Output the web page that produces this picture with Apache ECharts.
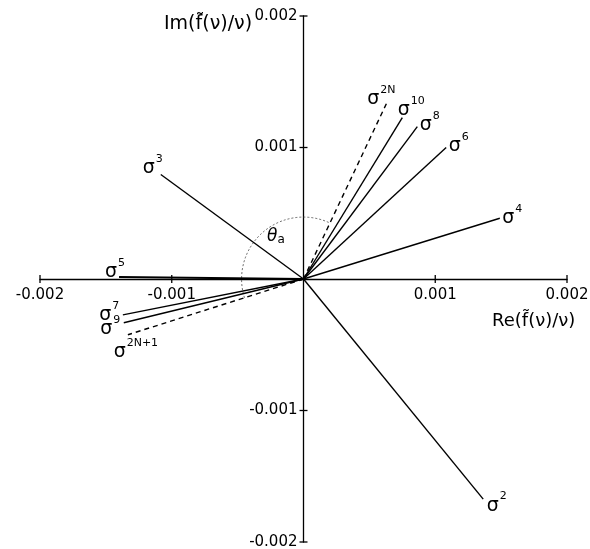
<!DOCTYPE html>
<html>
<head>
<meta charset="utf-8">
<script src="https://cdn.jsdelivr.net/npm/echarts@6/dist/echarts.min.js"></script>
<style>
  html, body { margin: 0; padding: 0; background: #fff; }
  #chart { width: 590px; height: 549px; }
</style>
</head>
<body>
<div id="chart"></div>
<script>
// Powers of sigma, drawn as vectors from the origin in the complex plane
const powers = ['2', '3', '4', '5', '6', '7', '8', '9', '10', '2N', '2N+1'];
const reValues = [0.001364, -0.001083, 0.00149, -0.00140, 0.001083, -0.001371, 0.000864, -0.001364, 0.00075, 0.000629, -0.001333];
const imValues = [-0.001674, 0.000795, 0.000462, 0.000015, 0.0010, -0.000273, 0.001159, -0.000333, 0.001227, 0.001333, -0.000424];
const limitPowers = ['2N', '2N+1'];        // limiting vectors, drawn dashed
const xTicks = [-0.002, -0.001, 0.001, 0.002];
const yTicks = [-0.002, -0.001, 0.001, 0.002];
const arcRadius = 0.00047;                  // radius of the theta_a arc

const FONT = 'DejaVu Sans';
const INK = '#000';

// label placement per vector end
const labelPlace = {
  '2':    { position: 'right', distance: 3, offset: [0, 4] },
  '3':    { position: 'top', distance: 0, offset: [-8, 4] },
  '4':    { position: 'right', distance: 2, offset: [0, -3] },
  '5':    { position: 'top', distance: 0, offset: [-4, 5] },
  '6':    { position: 'right', distance: 2, offset: [0, -4] },
  '7':    { position: 'left', distance: 3, offset: [0, -2] },
  '8':    { position: 'right', distance: 2, offset: [0, -4] },
  '9':    { position: 'left', distance: 3, offset: [0, 4] },
  '10':   { position: 'top', distance: 1, offset: [9, 3] },
  '2N':   { position: 'top', distance: 0, offset: [-5, 5] },
  '2N+1': { position: 'bottom', distance: 3, offset: [8, -1] }
};

const richSigma = {
  s: { fontFamily: FONT, fontSize: 19, color: INK, lineHeight: 24, verticalAlign: 'bottom' },
  p: { fontFamily: FONT, fontSize: 11, color: INK, lineHeight: 12, verticalAlign: 'top', padding: [0, 0, 0, 1] }
};

const vectorSeries = powers.map((p, i) => ({
  type: 'line',
  name: 'σ' + p,
  symbol: 'none',
  animation: false,
  silent: true,
  lineStyle: {
    color: INK,
    width: p === '5' ? 1.9 : 1.4,
    type: limitPowers.includes(p) ? [5, 4] : 'solid'
  },
  data: [[0, 0], [reValues[i], imValues[i]]]
}));

// sigma^k labels at the vector tips
const labelSeries = {
  type: 'scatter',
  silent: true,
  animation: false,
  symbolSize: 1,
  itemStyle: { color: INK, opacity: 0 },
  data: powers.map((p, i) => {
    const lp = labelPlace[p];
    return {
      value: [reValues[i], imValues[i]],
      label: {
        show: true,
        color: INK,
        opacity: 1,
        position: lp.position,
        distance: lp.distance,
        offset: lp.offset,
        formatter: '{s|σ}{p|' + p + '}',
        rich: richSigma
      }
    };
  })
};

function angleOf(name) {
  const i = powers.indexOf(name);
  return Math.atan2(imValues[i], reValues[i]);
}

// dotted arc marking theta_a between the two limiting vectors
const arcSeries = {
  type: 'custom',
  silent: true,
  animation: false,
  data: [[0, 0]],
  renderItem: function (params, api) {
    const c = api.coord([0, 0]);
    const r = api.size([arcRadius, 0])[0];
    const a1 = angleOf('2N');
    const a2 = angleOf('2N+1');
    return {
      type: 'arc',
      shape: { cx: c[0], cy: c[1], r: r, startAngle: -a2, endAngle: -a1, clockwise: true },
      style: { stroke: '#444', lineWidth: 0.8, fill: null, lineDash: [2, 2] }
    };
  }
};

const tickLabel = v => String(+v.toFixed(3));

// tick marks crossing both axes, with their labels
const tickData = xTicks.map(v => [v, 0, 0]).concat(yTicks.map(v => [0, v, 1]));
const tickSeries = {
  type: 'custom',
  silent: true,
  animation: false,
  data: tickData,
  renderItem: function (params, api) {
    const xv = api.value(0), yv = api.value(1);
    const pt = api.coord([xv, yv]);
    const onX = api.value(2) === 0;
    const h = 4;
    return {
      type: 'group',
      children: [
        {
          type: 'line',
          shape: onX
            ? { x1: pt[0], y1: pt[1] - h, x2: pt[0], y2: pt[1] + h }
            : { x1: pt[0] - h, y1: pt[1], x2: pt[0] + h, y2: pt[1] },
          style: { stroke: INK, lineWidth: 1.3 }
        },
        {
          type: 'text',
          x: onX ? pt[0] : pt[0] - 6,
          y: onX ? pt[1] + 9 : pt[1],
          style: {
            text: tickLabel(onX ? xv : yv),
            fill: INK,
            font: '15px "DejaVu Sans"',
            align: onX ? 'center' : 'right',
            verticalAlign: onX ? 'top' : 'middle'
          }
        }
      ]
    };
  }
};

const chart = echarts.init(document.getElementById('chart'), null, { renderer: 'canvas' });
chart.setOption({
  backgroundColor: '#fff',
  animation: false,
  grid: { left: 40, right: 23, top: 16, bottom: 7, containLabel: false, outerBoundsMode: 'none' },
  xAxis: {
    type: 'value', min: -0.002, max: 0.002, interval: 0.001,
    axisLine: { onZero: true, lineStyle: { color: INK, width: 1.3 } },
    axisTick: { show: false },
    splitLine: { show: false },
    axisLabel: { show: false }
  },
  yAxis: {
    type: 'value', min: -0.002, max: 0.002, interval: 0.001,
    axisLine: { onZero: true, lineStyle: { color: INK, width: 1.3 } },
    axisTick: { show: false },
    splitLine: { show: false },
    axisLabel: { show: false }
  },
  graphic: [
    { type: 'text', left: 164, top: 15, style: { text: 'Im(f\u0303(ν)/ν)', font: '19px "DejaVu Sans"', fill: INK } },
    { type: 'text', left: 492, top: 312, style: { text: 'Re(f\u0303(ν)/ν)', font: '18px "DejaVu Sans"', fill: INK } },
    {
      type: 'text', left: 267, top: 228,
      style: {
        text: '{t|θ}{a|a}',
        rich: {
          t: { fontFamily: FONT, fontStyle: 'italic', fontSize: 17, fill: INK, lineHeight: 18, verticalAlign: 'top' },
          a: { fontFamily: FONT, fontSize: 12, fill: INK, verticalAlign: 'bottom' }
        }
      }
    }
  ],
  series: vectorSeries.concat([arcSeries, tickSeries, labelSeries])
});
</script>
</body>
</html>
